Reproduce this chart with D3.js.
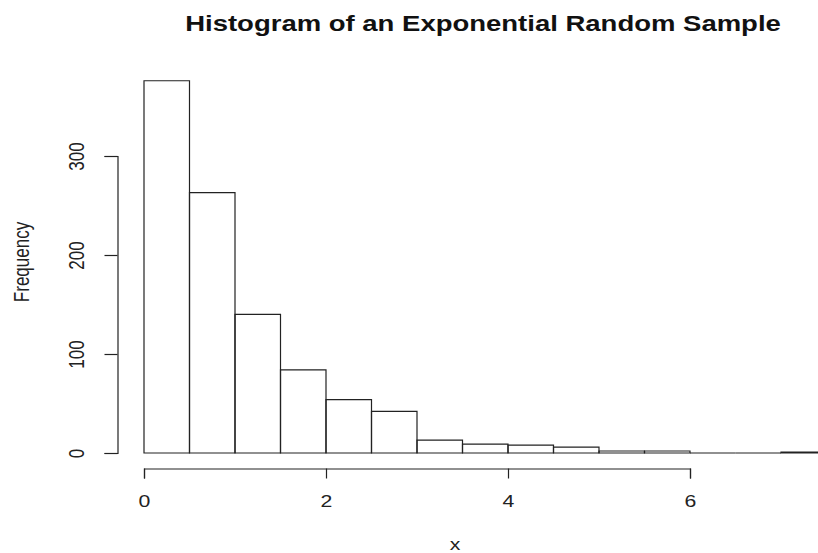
<!DOCTYPE html>
<html>
<head>
<meta charset="utf-8">
<script src="https://cdn.jsdelivr.net/npm/d3@7"></script>
<style>
  body { margin: 0; background: #fff; }
  svg { display: block; font-family: "Liberation Sans", Arial, sans-serif; }
</style>
</head>
<body>
<script>
// Histogram of 1000 exponential draws, bins of width 0.5
var binStarts = [0, 0.5, 1, 1.5, 2, 2.5, 3, 3.5, 4, 4.5, 5, 5.5, 6, 6.5, 7];
var binWidth = 0.5;
var counts = [376, 263, 140, 84, 54, 42, 13, 9, 8, 6, 2, 2, 0, 0, 1];
var xTicks = [0, 2, 4, 6];
var yTicks = [0, 100, 200, 300];

(function(){
    var width = 818, height = 553;
    var stretch = 1.25; // the reference picture is widened horizontally, text too
    var stroke = '#222';

    var svg = d3.select('body').append('svg')
        .attr('width', width)
        .attr('height', height);

    var x = d3.scaleLinear().domain([0, 6]).range([144, 690]);
    var y = d3.scaleLinear().domain([0, 300]).range([453, 156]);

    // bars drawn as outlines, so empty bins still show a line on the baseline
    svg.selectAll('.bar')
        .data(binStarts)
        .enter()
        .append('path')
        .attr('class', 'bar')
        .attr('d', function(d, i){
            var x0 = x(d), x1 = x(d + binWidth), y0 = y(0), y1 = y(counts[i]);
            return 'M' + x0 + ',' + y0 + 'V' + y1 + 'H' + x1 + 'V' + y0 + 'Z';
        })
        .attr('fill', 'none')
        .attr('stroke', stroke)
        .attr('stroke-width', 1.2);

    // x axis
    var xAxis = svg.append('g')
        .attr('transform', 'translate(0,468.5)')
        .call(d3.axisBottom(x).tickValues(xTicks).tickSize(10).tickFormat(d3.format('d')));

    // y axis
    var yAxis = svg.append('g')
        .attr('transform', 'translate(117.5,0)')
        .call(d3.axisLeft(y).tickValues(yTicks).tickSize(13).tickFormat(d3.format('d')));

    [xAxis, yAxis].forEach(function(g){
        g.select('.domain').attr('stroke', stroke).attr('stroke-width', 1.2);
        g.selectAll('.tick line').attr('stroke', stroke).attr('stroke-width', 1.2);
        g.selectAll('text').attr('fill', '#222').style('font-size', '17px')
            .style('font-family', '"Liberation Sans", Arial, sans-serif');
    });

    xAxis.selectAll('.tick text')
        .attr('y', null).attr('dy', null)
        .attr('transform', 'translate(0,38.5) scale(' + stretch + ',1)');

    // rotated y tick labels like R's default las=0
    yAxis.selectAll('.tick text')
        .attr('x', null).attr('dy', null)
        .attr('text-anchor', 'middle')
        .attr('transform', 'translate(-34,0) scale(' + stretch + ',1) rotate(-90)');

    // title
    svg.append('text')
        .attr('transform', 'translate(483,31) scale(' + stretch + ',1)')
        .attr('text-anchor', 'middle')
        .style('font-weight', 'bold')
        .style('font-size', '22px')
        .attr('fill', '#111')
        .text('Histogram of an Exponential Random Sample');

    // axis titles
    svg.append('text')
        .attr('transform', 'translate(455,550) scale(' + stretch + ',1)')
        .attr('text-anchor', 'middle')
        .style('font-size', '17px')
        .attr('fill', '#222')
        .text('x');

    svg.append('text')
        .attr('transform', 'translate(29,262) scale(' + stretch + ',1) rotate(-90)')
        .attr('text-anchor', 'middle')
        .style('font-size', '17px')
        .attr('fill', '#222')
        .text('Frequency');
})();
</script>
</body>
</html>
